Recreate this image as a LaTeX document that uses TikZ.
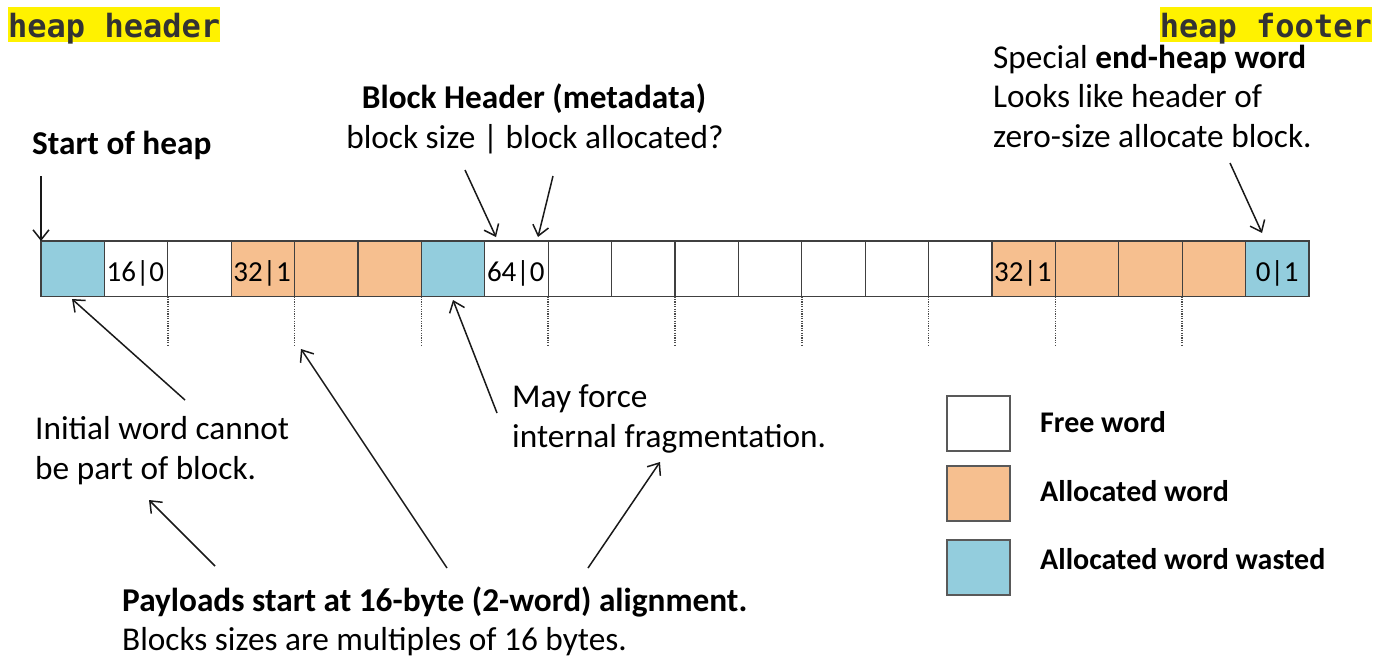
\documentclass[tikz,border=0pt]{standalone}
\usepackage{fontspec}
\setmainfont{Carlito}
\newfontfamily\codefont{DejaVu Sans Mono}
\usetikzlibrary{arrows.meta}
\definecolor{wasteblue}{HTML}{93CDDD}
\definecolor{allocor}{HTML}{F6BF8F}
\definecolor{codegray}{HTML}{333333}
\begin{document}
\begin{tikzpicture}[x=1pt,y=-1pt,
  cell/.style={draw=black!75, line width=1.3pt, minimum width=63.4pt, minimum height=55.5pt, inner sep=0pt, outer sep=0pt, anchor=north west},
  freec/.style={cell, fill=white},
  allocc/.style={cell, fill=allocor},
  wastec/.style={cell, fill=wasteblue},
  legbox/.style={draw=black!65, line width=1.5pt, minimum width=63pt, minimum height=55pt, inner sep=0pt, outer sep=0pt, anchor=north west},
  celltxt/.style={font=\fontsize{29}{34}\selectfont, inner sep=0pt, anchor=base west},
  txt/.style={font=\fontsize{33.3}{40}\selectfont, inner sep=0pt, anchor=base west},
  btxt/.style={txt, font=\fontsize{33.3}{40}\selectfont\bfseries},
  legtxt/.style={font=\fontsize{30}{36}\selectfont\bfseries, inner sep=0pt, anchor=base west},
  ptr/.style={-{Straight Barb[length=10pt,width=16pt]}, line width=1.5pt, black!90},
  dotline/.style={dash pattern=on 1.2pt off 1.2pt, line width=1.6pt, black!70},
  hilite/.style={fill=yellow, text=codegray, font=\fontsize{32}{36}\selectfont\codefont\bfseries, inner sep=0pt, text height=30pt, text depth=4.5pt}]
\useasboundingbox (0,0) rectangle (1378,657);

% highlighted captions
\node[hilite, anchor=base west] (hh) at (8,37) {heap header};
\node[hilite, anchor=base east] (hf) at (1372,37) {heap footer};

% heap words
\foreach \s [count=\i from 0] in {wastec,freec,freec,allocc,allocc,allocc,wastec,freec,freec,freec,freec,freec,freec,freec,freec,allocc,allocc,allocc,allocc,wastec}
  \node[\s] (c\i) at (41+63.4*\i,241) {};

% word contents
\node[celltxt] (t1) at ([xshift=2pt,yshift=-40pt]c1.north west) {16|0};
\node[celltxt] (t3) at ([xshift=2pt,yshift=-40pt]c3.north west) {32|1};
\node[celltxt] (t7) at ([xshift=2pt,yshift=-40pt]c7.north west) {64|0};
\node[celltxt] (t15) at ([xshift=2pt,yshift=-40pt]c15.north west) {32|1};
\node[celltxt, anchor=base] (t19) at ([yshift=-40pt]c19.north) {0|1};

% alignment ticks
\foreach \i in {2,4,...,18}
  \draw[dotline] (c\i.south west) -- ++(0,50);

% top labels
\node[btxt] (soh) at (32,154) {Start of heap};
\node[btxt, anchor=base] (bh1) at (534,108) {Block Header (metadata)};
\node[txt, anchor=base] (bh2) at (535,148) {block size | block allocated?};
\node[txt] (eh1) at (993,68) {Special \textbf{end-heap word}};
\node[txt] (eh2) at (993,107.5) {Looks like header of};
\node[txt] (eh3) at (993,147) {zero-size allocate block.};

% middle labels
\node[txt] (iw1) at (35,439) {Initial word cannot};
\node[txt] (iw2) at (35,479) {be part of block.};
\node[txt] (mf1) at (512,407) {May force};
\node[txt] (mf2) at (512,447) {internal fragmentation.};

% bottom labels
\node[btxt] (pl1) at (122,611) {Payloads start at 16-byte (2-word) alignment.};
\node[txt] (pl2) at (122,650) {Blocks sizes are multiples of 16 bytes.};

% legend
\node[legbox, fill=white] (lf) at (947,396) {};
\node[legbox, fill=allocor] (la) at (947,466) {};
\node[legbox, fill=wasteblue] (lw) at (947,540) {};
\node[legtxt] (lft) at (1040,432) {Free word};
\node[legtxt] (lat) at (1040,501) {Allocated word};
\node[legtxt] (lwt) at (1040,569) {Allocated word wasted};

% arrow end points
\coordinate (a0) at (41,176);
\coordinate (b1s) at (465,170);
\coordinate (b1e) at (496,237);
\coordinate (b2s) at (553,176);
\coordinate (b2e) at (538,237);
\coordinate (e1s) at (1230,163);
\coordinate (e1e) at (1262,233);
\coordinate (i1s) at (185,400);
\coordinate (i1e) at (72,299);
\coordinate (m1s) at (497,413);
\coordinate (m1e) at (453,300);
\coordinate (p1s) at (215,566);
\coordinate (p1e) at (149,500);
\coordinate (p2s) at (447,568);
\coordinate (p2e) at (301,349);
\coordinate (p3s) at (588,568);
\coordinate (p3e) at (660,462);

\draw[ptr] (a0) -- (c0.north west);
\draw[ptr] (b1s) -- (b1e);
\draw[ptr] (b2s) -- (b2e);
\draw[ptr] (e1s) -- (e1e);
\draw[ptr] (i1s) -- (i1e);
\draw[ptr] (m1s) -- (m1e);
\draw[ptr] (p1s) -- (p1e);
\draw[ptr] (p2s) -- (p2e);
\draw[ptr] (p3s) -- (p3e);
\end{tikzpicture}
\end{document}
